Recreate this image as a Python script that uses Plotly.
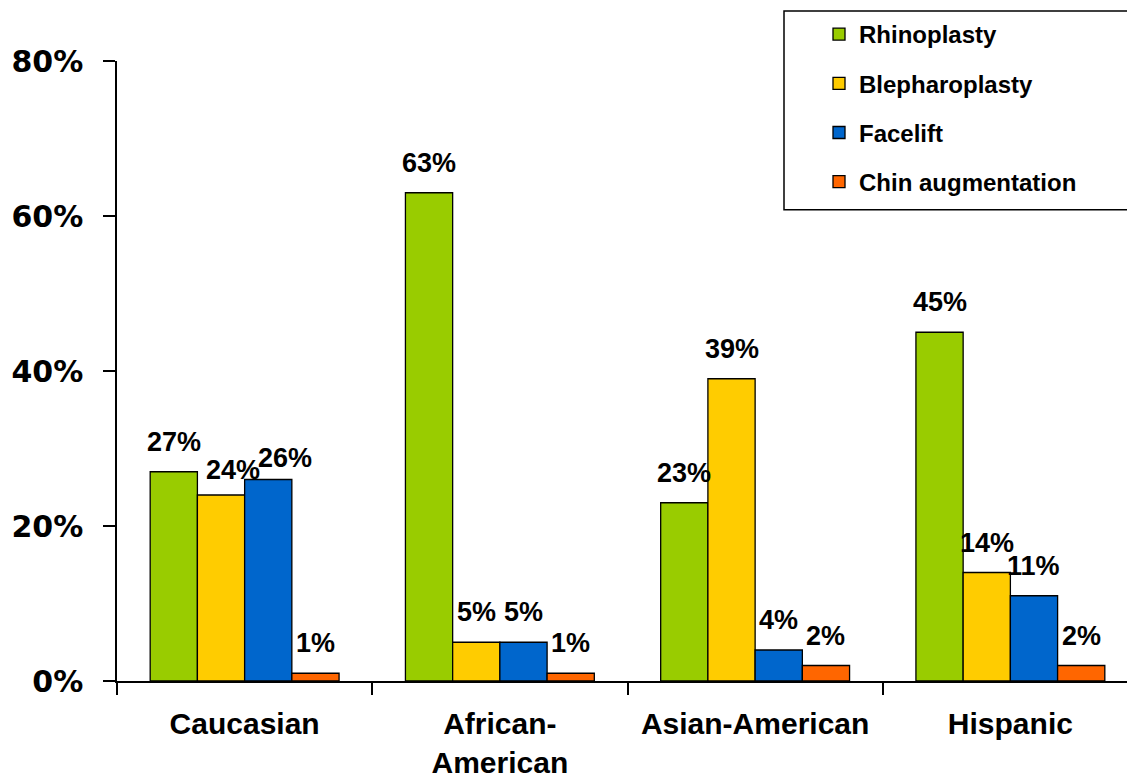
import plotly.graph_objects as go

# ── Data ─────────────────────────────────────────────────────────────────────
groups = ["Caucasian", "African-<br>American", "Asian-American", "Hispanic"]
procedures = ["Rhinoplasty", "Blepharoplasty", "Facelift", "Chin augmentation"]
rhinoplasty = [27, 63, 23, 45]
blepharoplasty = [24, 5, 39, 14]
facelift = [26, 5, 4, 11]
chin_augmentation = [1, 1, 2, 2]
y_ticks = [0, 20, 40, 60, 80]

series = [rhinoplasty, blepharoplasty, facelift, chin_augmentation]
colors = ["#99CC00", "#FFCC00", "#0066CC", "#FF6600"]

# page body adds an 8px margin, so figure coords = screen coords - 8
OFF = 8
W, H = 1135, 780 - OFF
M_L, M_T = 117 - OFF, 60 - OFF
M_R = W - (1138 - OFF)
M_B = H - (681 - OFF)
PLOT_W = W - M_L - M_R
PLOT_H = H - M_T - M_B
BARGAP = 0.26
FONT = "Arial, 'Liberation Sans', sans-serif"


def px_x(sx):
    return (sx - OFF - M_L) / PLOT_W


def px_y(sy):
    return (H - M_B - (sy - OFF)) / PLOT_H


fig = go.Figure()
for i, (name, vals) in enumerate(zip(procedures, series)):
    fig.add_trace(go.Bar(
        x=groups, y=vals, name=name,
        legendgroup=name,
        marker=dict(color=colors[i], line=dict(color="black", width=1.3)),
    ))

# ── Value labels above each bar ──────────────────────────────────────────────
bar_px = PLOT_W / len(groups) * (1 - BARGAP) / len(series)
# hand nudges used in the original to avoid overlapping labels
nudge = {(1, 0): (12, -5), (2, 0): (17, -8)}
for i, vals in enumerate(series):
    for j, v in enumerate(vals):
        dx, dy = nudge.get((i, j), (0, 0))
        fig.add_annotation(
            x=groups[j], y=v, text=f"{v}%", showarrow=False,
            xshift=(i - (len(series) - 1) / 2) * bar_px + dx,
            yshift=30 + dy, yanchor="middle",
            font=dict(family=FONT, size=27, color="black", weight="bold"),
        )

# ── Legend frame (runs off the right edge like the original) ─────────────────
fig.add_shape(type="rect", xref="paper", yref="paper",
              x0=px_x(784), x1=1.05, y0=px_y(209), y1=px_y(10),
              line=dict(color="black", width=1.5), fillcolor="rgba(0,0,0,0)")

fig.update_xaxes(
    type="category", showline=True, linecolor="black", linewidth=1.5,
    ticks="outside", tickson="boundaries", ticklen=12, tickwidth=1.5,
    tickcolor="black", showgrid=False, ticklabelstandoff=15,
    automargin=False,
    tickfont=dict(family=FONT, size=30, color="black", weight="bold"),
)
fig.update_yaxes(
    range=[0, 80], tickvals=y_ticks, ticktext=[f"{t}%" for t in y_ticks],
    showline=True, linecolor="black", linewidth=1.5,
    ticks="outside", ticklen=12, tickwidth=1.5, tickcolor="black",
    showgrid=False, zeroline=False, ticklabelstandoff=14, automargin=False,
    tickfont=dict(family="'DejaVu Sans', sans-serif", size=30, color="black",
                  weight="bold"),
)
fig.update_layout(
    width=W, height=H, autosize=False,
    barmode="group", bargap=BARGAP, bargroupgap=0,
    plot_bgcolor="white", paper_bgcolor="white",
    margin=dict(l=M_L, r=M_R, t=M_T, b=M_B),
    showlegend=True,
    legend=dict(
        x=px_x(819), xanchor="left",
        y=px_y(12), yanchor="top",
        bgcolor="rgba(0,0,0,0)", borderwidth=0,
        tracegroupgap=15, traceorder="grouped",
        font=dict(family=FONT, size=24, color="black", weight="bold"),
    ),
)
fig.write_html("out.html")
